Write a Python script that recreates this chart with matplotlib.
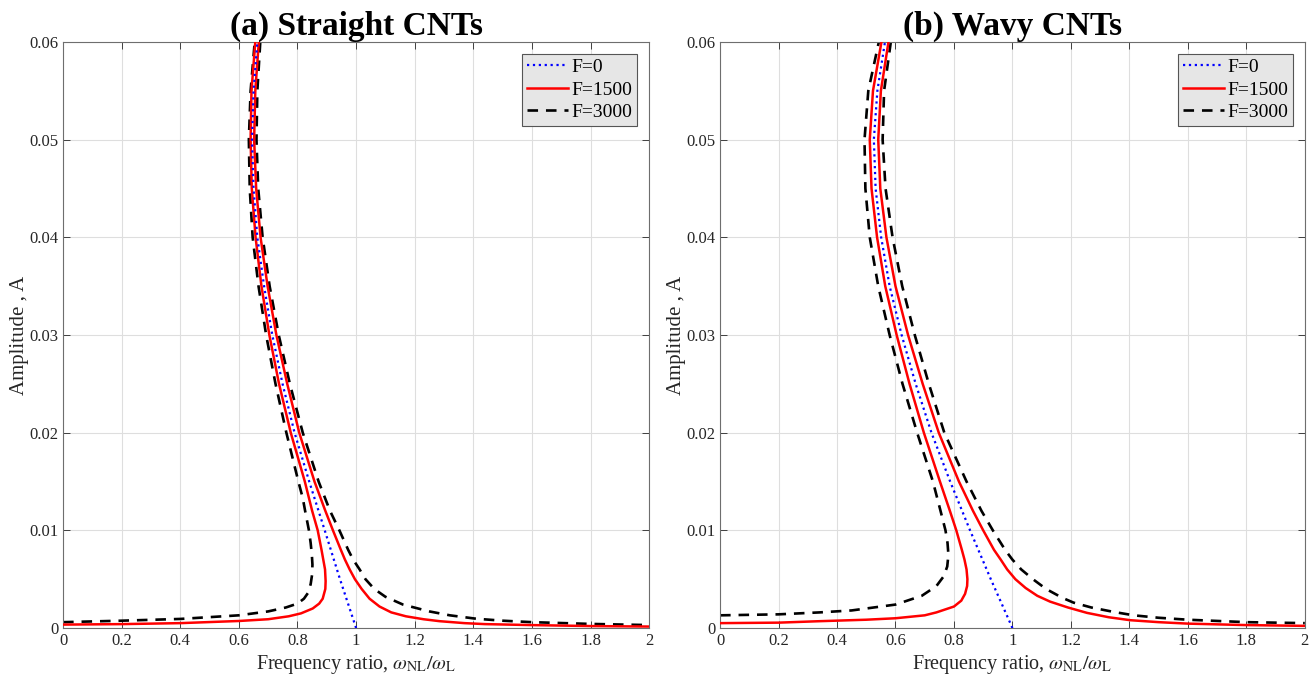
import numpy as np
import matplotlib
matplotlib.use("Agg")
import matplotlib.pyplot as plt

plt.rcParams['font.family'] = ['Liberation Serif', 'DejaVu Serif']
plt.rcParams['mathtext.fontset'] = 'stix'

# ---- data (x = frequency ratio, y = amplitude) ----
# (a) straight CNTs
a_f0_x = [1.0, 0.945, 0.893, 0.84, 0.79, 0.749, 0.714, 0.686, 0.663, 0.65, 0.645, 0.65, 0.663]
a_f0_y = [0.0, 0.005, 0.01, 0.015, 0.02, 0.025, 0.03, 0.035, 0.04, 0.045, 0.05, 0.055, 0.06]

a_f1500_lo_x = [0.0, 0.2, 0.4, 0.6, 0.7, 0.77, 0.812, 0.852, 0.874, 0.886, 0.895, 0.896, 0.894,
                0.888, 0.882, 0.869, 0.85, 0.825, 0.777, 0.737, 0.704, 0.677, 0.657, 0.644,
                0.64, 0.643, 0.656]
a_f1500_lo_y = [0.00035, 0.0004, 0.0005, 0.00072, 0.0009, 0.0012, 0.0015, 0.002, 0.0025, 0.003, 0.004, 0.0048, 0.006,
                0.007, 0.008, 0.01, 0.012, 0.015, 0.02, 0.025, 0.03, 0.035, 0.04, 0.045,
                0.05, 0.055, 0.06]
a_f1500_hi_x = [0.668, 0.656, 0.652, 0.659, 0.674, 0.698, 0.728, 0.765, 0.806, 0.858, 0.895, 0.921,
                0.948, 0.962, 0.978, 0.996, 1.019, 1.046, 1.08, 1.12, 1.17, 1.23, 1.285, 1.37,
                1.44, 1.6, 1.8, 2.0]
a_f1500_hi_y = [0.06, 0.055, 0.05, 0.045, 0.04, 0.035, 0.03, 0.025, 0.02, 0.015, 0.012, 0.01,
                0.008, 0.007, 0.006, 0.005, 0.004, 0.003, 0.0022, 0.0016, 0.0012, 0.0009, 0.0007, 0.0005,
                0.0004, 0.0003, 0.0002, 0.00015]

a_f3000_lo_x = [0.0, 0.2, 0.4, 0.6, 0.7, 0.76, 0.8, 0.822, 0.836, 0.845, 0.85, 0.851, 0.849,
                0.845, 0.839, 0.826, 0.818, 0.803, 0.762, 0.725, 0.693, 0.667, 0.647, 0.637,
                0.634, 0.64, 0.654]
a_f3000_lo_y = [0.0006, 0.00075, 0.00093, 0.0013, 0.0017, 0.0021, 0.0025, 0.003, 0.0036, 0.0045, 0.0055, 0.0065, 0.0075,
                0.0087, 0.01, 0.012, 0.0133, 0.015, 0.02, 0.025, 0.03, 0.035, 0.04, 0.045,
                0.05, 0.055, 0.06]
a_f3000_hi_x = [0.673, 0.663, 0.66, 0.666, 0.681, 0.705, 0.736, 0.774, 0.818, 0.872, 0.911, 0.943,
                0.973, 0.99, 1.012, 1.032, 1.062, 1.1, 1.16, 1.25, 1.32, 1.41, 1.5, 1.6, 1.8, 2.0]
a_f3000_hi_y = [0.06, 0.055, 0.05, 0.045, 0.04, 0.035, 0.03, 0.025, 0.02, 0.015, 0.012, 0.01,
                0.008, 0.007, 0.006, 0.005, 0.004, 0.0032, 0.0024, 0.0017, 0.0013, 0.00095, 0.00075, 0.0006,
                0.00042, 0.0003]

# (b) wavy CNTs
b_f0_x = [1.0, 0.926, 0.855, 0.787, 0.723, 0.669, 0.621, 0.58, 0.551, 0.532, 0.526, 0.538, 0.564]
b_f0_y = [0.0, 0.005, 0.01, 0.015, 0.02, 0.025, 0.03, 0.035, 0.04, 0.045, 0.05, 0.055, 0.06]

b_f1500_lo_x = [0.0, 0.2, 0.341, 0.5, 0.6, 0.7, 0.74, 0.8, 0.825, 0.838, 0.845, 0.846, 0.843,
                0.836, 0.827, 0.808, 0.786, 0.752, 0.697, 0.648, 0.604, 0.565, 0.537, 0.518,
                0.512, 0.523, 0.552]
b_f1500_lo_y = [0.0005, 0.00055, 0.0007, 0.00085, 0.001, 0.0013, 0.0016, 0.0022, 0.0028, 0.0035, 0.0043, 0.005, 0.006,
                0.007, 0.008, 0.01, 0.012, 0.015, 0.02, 0.025, 0.03, 0.035, 0.04, 0.045,
                0.05, 0.055, 0.06]
b_f1500_hi_x = [0.576, 0.55, 0.541, 0.548, 0.569, 0.6, 0.643, 0.693, 0.748, 0.817, 0.865, 0.9,
                0.937, 0.96, 0.982, 1.01, 1.045, 1.085, 1.129, 1.19, 1.255, 1.33, 1.403, 1.5,
                1.6, 1.8, 2.0]
b_f1500_hi_y = [0.06, 0.055, 0.05, 0.045, 0.04, 0.035, 0.03, 0.025, 0.02, 0.015, 0.012, 0.01,
                0.008, 0.007, 0.006, 0.005, 0.0041, 0.0033, 0.0027, 0.0021, 0.00155, 0.0011, 0.0008, 0.0006,
                0.00045, 0.0003, 0.00022]

b_f3000_lo_x = [0.0, 0.2, 0.341, 0.45, 0.6, 0.69, 0.74, 0.765, 0.777, 0.781, 0.778, 0.771,
                0.754, 0.728, 0.674, 0.624, 0.58, 0.541, 0.512, 0.497, 0.494, 0.507, 0.543]
b_f3000_lo_y = [0.0013, 0.0014, 0.0016, 0.0018, 0.0024, 0.0033, 0.0043, 0.0053, 0.0063, 0.0075, 0.0087, 0.01,
                0.012, 0.015, 0.02, 0.025, 0.03, 0.035, 0.04, 0.045, 0.05, 0.055, 0.06]
b_f3000_hi_x = [0.584, 0.561, 0.556, 0.566, 0.59, 0.623, 0.666, 0.714, 0.767, 0.843, 0.894, 0.933,
                0.975, 1.0, 1.03, 1.07, 1.115, 1.17, 1.209, 1.27, 1.346, 1.415, 1.5, 1.6, 1.8, 2.0]
b_f3000_hi_y = [0.06, 0.055, 0.05, 0.045, 0.04, 0.035, 0.03, 0.025, 0.02, 0.015, 0.012, 0.01,
                0.008, 0.007, 0.006, 0.005, 0.004, 0.0031, 0.0026, 0.0021, 0.00165, 0.0013, 0.00105, 0.00085,
                0.0006, 0.0005]

titles = ['(a) Straight CNTs', '(b) Wavy CNTs']
labels = ['F=0', 'F=1500', 'F=3000']
xticks = [0, 0.2, 0.4, 0.6, 0.8, 1, 1.2, 1.4, 1.6, 1.8, 2]
xticklabels = ['0', '0.2', '0.4', '0.6', '0.8', '1', '1.2', '1.4', '1.6', '1.8', '2']
yticks = [0, 0.01, 0.02, 0.03, 0.04, 0.05, 0.06]
yticklabels = ['0', '0.01', '0.02', '0.03', '0.04', '0.05', '0.06']

panels = [
    (a_f0_x, a_f0_y, a_f1500_lo_x, a_f1500_lo_y, a_f1500_hi_x, a_f1500_hi_y,
     a_f3000_lo_x, a_f3000_lo_y, a_f3000_hi_x, a_f3000_hi_y),
    (b_f0_x, b_f0_y, b_f1500_lo_x, b_f1500_lo_y, b_f1500_hi_x, b_f1500_hi_y,
     b_f3000_lo_x, b_f3000_lo_y, b_f3000_hi_x, b_f3000_hi_y),
]

fig = plt.figure(figsize=(13.14, 6.83), dpi=100)
ax_rects = [[0.048, 0.0805, 0.446, 0.858], [0.548, 0.0805, 0.445, 0.858]]
axis_col = '#262626'

for i, (rect, d) in enumerate(zip(ax_rects, panels)):
    ax = fig.add_axes(rect)
    f0x, f0y, r1x, r1y, r2x, r2y, k1x, k1y, k2x, k2y = d
    ax.plot(f0x, f0y, ':', color='b', lw=1.6, label=labels[0], zorder=4)
    ax.plot(r1x, r1y, '-', color='r', lw=1.8, label=labels[1], zorder=3)
    ax.plot(r2x, r2y, '-', color='r', lw=1.8, zorder=3)
    ax.plot(k1x, k1y, '--', color='k', lw=1.9, dashes=(4, 3), label=labels[2], zorder=2)
    ax.plot(k2x, k2y, '--', color='k', lw=1.9, dashes=(4, 3), zorder=2)

    ax.set_xlim(0, 2)
    ax.set_ylim(0, 0.06)
    ax.set_xticks(xticks)
    ax.set_xticklabels(xticklabels)
    ax.set_yticks(yticks)
    ax.set_yticklabels(yticklabels)
    ax.tick_params(direction='in', top=True, right=True, labelsize=12,
                   colors=axis_col, length=5, width=0.6)
    ax.grid(True, color='#dedede', lw=0.8)
    ax.set_axisbelow(True)
    for sp in ax.spines.values():
        sp.set_color('#6e6e6e')
        sp.set_linewidth(0.8)

    ax.set_title(titles[i], fontsize=24, fontweight='bold', pad=5)
    ax.set_xlabel(r'Frequency ratio, $\omega_{\rm NL}/\omega_{\rm L}$', fontsize=14.5,
                  color=axis_col, labelpad=3)
    ax.set_ylabel('Amplitude , A', fontsize=15, color=axis_col, labelpad=0)

    leg = ax.legend(loc='upper right', fontsize=14, fancybox=False, handlelength=2.1,
                    borderpad=0.25, labelspacing=0.25, handletextpad=0.2,
                    borderaxespad=0.6, framealpha=1)
    leg.get_frame().set_facecolor('#e6e6e6')
    leg.get_frame().set_edgecolor('#555555')
    leg.get_frame().set_linewidth(0.8)

plt.savefig('out.png', dpi=100)
